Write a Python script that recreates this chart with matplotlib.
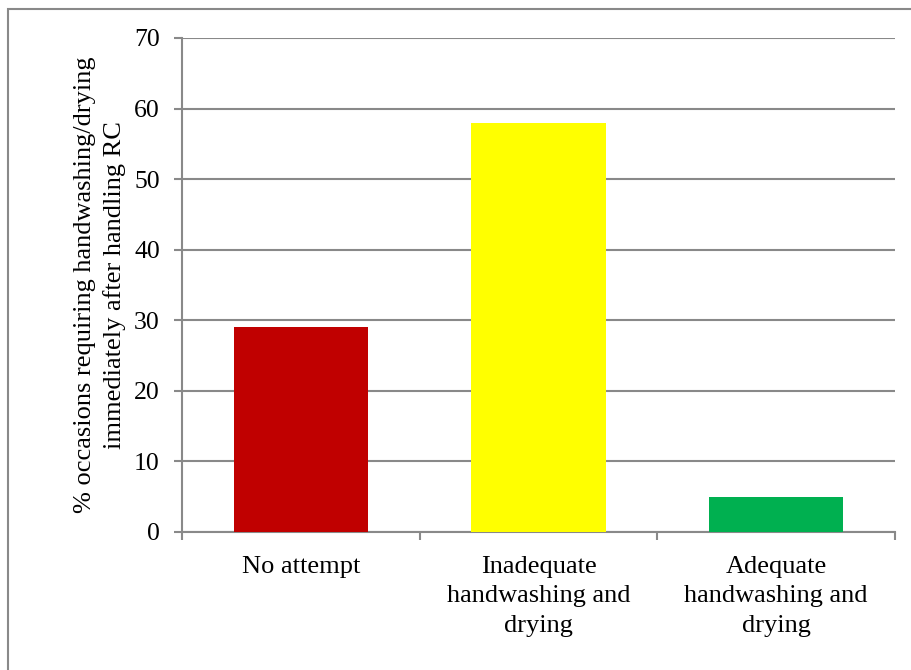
import matplotlib
matplotlib.use("Agg")
import matplotlib.pyplot as plt
from matplotlib.patches import Rectangle

categories = ["No attempt", "Inadequate\nhandwashing and\ndrying", "Adequate\nhandwashing and\ndrying"]
values = [29, 58, 5]
colors = ["#C00000", "#FFFF00", "#00B050"]
yticks = [0, 10, 20, 30, 40, 50, 60, 70]
ylabel = "% occasions requiring handwashing/drying\nimmediately after handling RC"

plt.rcParams['font.family'] = ['Liberation Serif', 'DejaVu Serif']
grid_color = "#898989"

fig = plt.figure(figsize=(9.12, 6.70), dpi=100)
ax = fig.add_axes([182/912, 1-532/670, (895-182)/912, (532-38)/670])

x = list(range(len(categories)))
ax.bar(x, values, width=0.565, color=colors, zorder=3)

ax.set_xlim(-0.5, len(categories)-0.5)
ax.set_ylim(0, 70)
ax.set_yticks(yticks)
ax.set_yticklabels([str(t) for t in yticks], fontsize=18.5)
ax.yaxis.grid(True, color=grid_color, linewidth=1.5, zorder=0)

ax.set_xticks(x)
ax.set_xticklabels(categories, fontsize=19, linespacing=1.45)
ax.tick_params(axis='x', which='major', length=0, pad=17)
ax.set_xticks([i - 0.5 for i in range(len(categories)+1)], minor=True)
ax.tick_params(axis='x', which='minor', length=6, width=1.5, color=grid_color, direction='out')
ax.tick_params(axis='y', length=6, width=1.5, color=grid_color, direction='out', pad=10)

for s in ['top', 'right']:
    ax.spines[s].set_visible(False)
for s in ['left', 'bottom']:
    ax.spines[s].set_color(grid_color)
    ax.spines[s].set_linewidth(1.5)

ax.set_ylabel(ylabel, fontsize=19, linespacing=1.35, labelpad=6)

fig.patches.append(Rectangle((8/912, -0.1), 1.2, 1 - 9/670 + 0.1, transform=fig.transFigure,
                             fill=False, edgecolor=grid_color, linewidth=1.5))

fig.savefig("out.png", dpi=100)
